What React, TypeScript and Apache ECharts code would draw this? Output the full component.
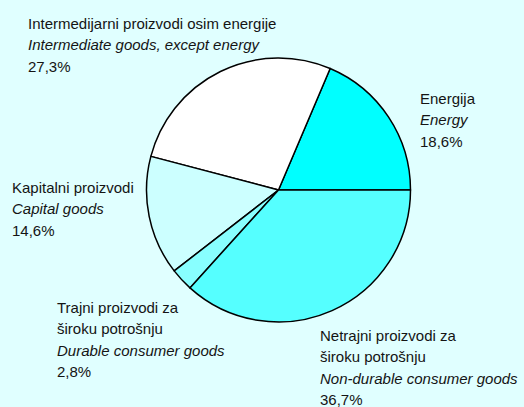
import React, { useEffect, useRef } from "react";
import * as echarts from "echarts";

const categories = [
  "Energy",
  "Intermediate goods, except energy",
  "Capital goods",
  "Durable consumer goods",
  "Non-durable consumer goods",
];
const values = [18.6, 27.3, 14.6, 2.8, 36.7];
const colors = ["#00ffff", "#ffffff", "#ccffff", "#88ffff", "#55ffff"];
const localNames = [
  ["Energija"],
  ["Intermedijarni proizvodi osim energije"],
  ["Kapitalni proizvodi"],
  ["Trajni proizvodi za", "široku potrošnju"],
  ["Netrajni proizvodi za", "široku potrošnju"],
];
const percentLabels = ["18,6%", "27,3%", "14,6%", "2,8%", "36,7%"];

const labelPos = [
  [420, 98],
  [28, 23],
  [12, 187],
  [57, 307],
  [320, 335],
];

export default function App() {
  const ref = useRef<HTMLDivElement>(null);
  useEffect(() => {
    if (!ref.current) return;
    const chart = echarts.init(ref.current, null, { renderer: "svg" });
    const font = "Liberation Sans, Arial, sans-serif";
    const lh = 21.5;
    const graphics: any[] = [];
    categories.forEach((cat, i) => {
      const [x, y] = labelPos[i];
      const lines: { t: string; italic: boolean }[] = [];
      localNames[i].forEach((t) => lines.push({ t, italic: false }));
      lines.push({ t: cat, italic: true });
      lines.push({ t: percentLabels[i], italic: false });
      lines.forEach((ln, j) => {
        graphics.push({
          type: "text",
          x,
          y: y + j * lh,
          style: {
            text: ln.t,
            fill: "#141414",
            font: `${ln.italic ? "italic " : ""}15px ${font}`,
            verticalAlign: "middle",
          },
        });
      });
    });
    chart.setOption({
      animation: false,
      backgroundColor: "#e0ffff",
      graphic: graphics,
      series: [
        {
          type: "pie",
          center: [278.5, 190],
          radius: [0, 132],
          startAngle: 0,
          clockwise: false,
          label: { show: false },
          labelLine: { show: false },
          emphasis: { disabled: true },
          itemStyle: { borderColor: "#000", borderWidth: 1.5 },
          data: categories.map((c, i) => ({
            name: c,
            value: values[i],
            itemStyle: { color: colors[i] },
          })),
        },
      ],
    });
    return () => chart.dispose();
  }, []);
  return (
    <div
      ref={ref}
      style={{ position: "fixed", left: 0, top: 0, width: 524, height: 407 }}
    />
  );
}
